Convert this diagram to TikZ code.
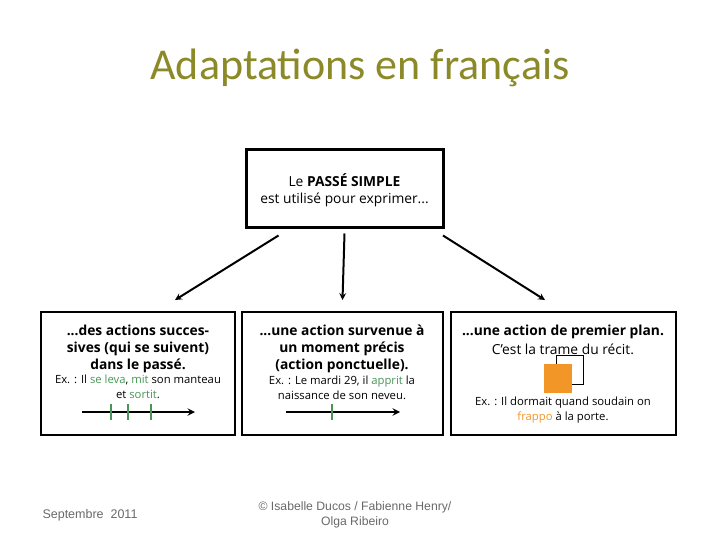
\documentclass[tikz,border=0pt]{standalone}
\usepackage{fontspec}
\setmainfont{Open Sans}
\newfontfamily\titlefont{Carlito}
\newfontfamily\footfont{Liberation Sans}
\usetikzlibrary{arrows, positioning}
\definecolor{titreolive}{RGB}{140,138,40}
\definecolor{vertex}{RGB}{70,150,85}
\definecolor{orangeplan}{RGB}{242,150,40}
\definecolor{grisbas}{RGB}{105,105,105}
\tikzset{
  boite/.style={draw, line width=2pt, inner sep=0pt},
  fleche/.style={->, line width=2pt},
  gras/.style={align=center, font=\fontsize{13.8}{17}\selectfont\bfseries},
  exemple/.style={align=center, font=\fontsize{11.3}{14.5}\selectfont},
  temps/.style={->, line width=2.2pt},
  cran/.style={vertex, line width=2.4pt}
}

\begin{document}
\begin{tikzpicture}[>=stealth, x=1pt, y=-1pt, font=\small]
\useasboundingbox (0,0) rectangle (720,540);
\node[titreolive, font=\titlefont\fontsize{44}{48}\selectfont] (titre) at (360,68) {Adaptations en français};
%
\node[boite, line width=3pt, minimum width=197pt, minimum height=78pt] (haut) at (344.5,189) {};
\node[align=center, font=\fontsize{13.8}{17}\selectfont] (hauttxt) at (344.5,190) {Le \textbf{PASSÉ SIMPLE}\\est utilisé pour exprimer...};
%
\node[boite, minimum width=194pt, minimum height=123pt] (b1) at (138,373.5) {};
\node[boite, minimum width=201pt, minimum height=123pt] (b2) at (342.5,373.5) {};
\node[boite, minimum width=225pt, minimum height=123pt] (b3) at (563.5,373.5) {};
%
\draw[fleche] ([xshift=-66pt, yshift=-6pt]haut.south) -- ([xshift=37pt, yshift=11pt]b1.north);
\draw[fleche] ([yshift=-4pt]haut.south) -- ([yshift=11pt]b2.north);
\draw[fleche] ([xshift=98.5pt, yshift=-6pt]haut.south) -- ([xshift=-18.5pt, yshift=11pt]b3.north);
%
\node[gras] (t1) at (138,349) {...des actions succes-\\sives (qui se suivent)\\dans le passé.};
\node[exemple] (e1) at (138,387) {Ex. : Il \textcolor{vertex}{se leva}, \textcolor{vertex}{mit} son manteau\\et \textcolor{vertex}{sortit}.};
\draw[temps] (82,412) -- (195,412);
\foreach \x in {111,128,151}
  \draw[cran] (\x,404) -- (\x,420);
%
\node[gras] (t2) at (342,349) {...une action survenue à\\un moment précis\\(action ponctuelle).};
\node[exemple] (e2) at (342,388) {Ex. : Le mardi 29, il \textcolor{vertex}{apprit} la\\naissance de son neveu.};
\draw[temps] (286,412) -- (400,412);
\draw[cran] (332,404) -- (332,420);
%
\node[gras] (t3) at (563,332) {...une action de premier plan.};
\node[font=\fontsize{13.8}{16}\selectfont] (t3b) at (563,349) {C'est la trame du récit.};
\draw[line width=0.8pt] (556,355) rectangle (583,384);
\fill[orangeplan] (544,364) rectangle (572,393);
\node[exemple] (e3) at (563,410) {Ex. : Il dormait quand soudain on\\\textcolor{orangeplan}{frappo} à la porte.};
%
\node[grisbas, font=\footfont\fontsize{12.5}{15}\selectfont] (date) at (90,515) {Septembre\ \ 2011};
\node[grisbas, align=center, font=\footfont\fontsize{12.2}{15}\selectfont] (auteurs) at (355,515) {© Isabelle Ducos / Fabienne Henry/\\Olga Ribeiro};
\end{tikzpicture}
\end{document}
